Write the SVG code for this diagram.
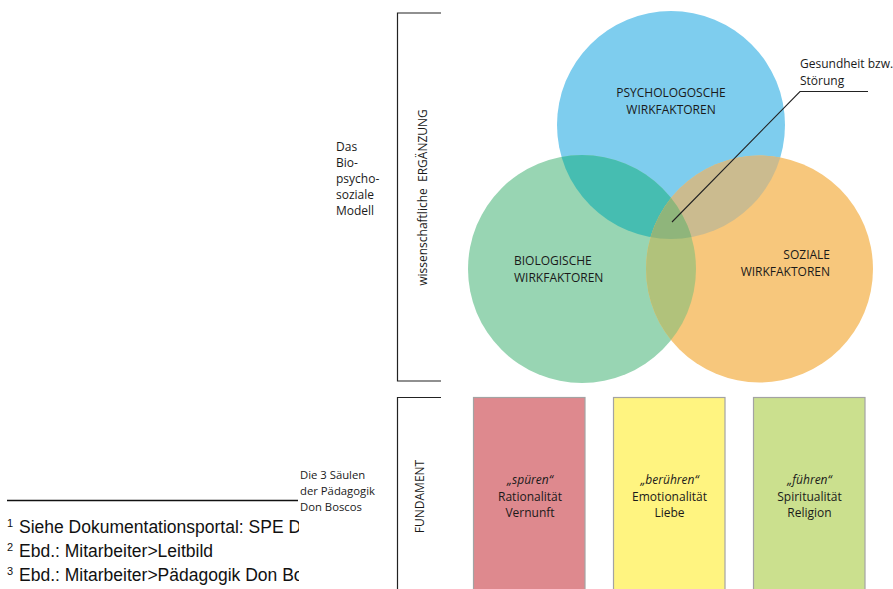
<svg xmlns="http://www.w3.org/2000/svg" width="893" height="589" viewBox="0 0 893 589">
<style>
text{font-family:"Open Sans","Noto Sans",sans-serif;font-size:12px;fill:#1a1a1a}
.fn{font-family:"Liberation Sans",Arial,sans-serif;font-size:17.5px;fill:#111}
.sup{font-family:"Liberation Sans",Arial,sans-serif;font-size:11px;fill:#111}
.sm{font-size:11.3px}
.br{fill:none;stroke:#222;stroke-width:1.2}
.col{stroke:#a3a3a3;stroke-width:1.2}
.c{text-anchor:middle}
.it{font-style:italic}
</style>
<defs>
<clipPath id="cB"><circle cx="671" cy="125" r="114"/></clipPath>
<clipPath id="cG"><circle cx="582" cy="269" r="114"/></clipPath>
<clipPath id="cFn"><rect x="0" y="505" width="299" height="84"/></clipPath>
</defs>
<rect width="893" height="589" fill="#fff"/>

<g id="venn">
<circle id="blue" cx="671" cy="125" r="114" fill="#7ecdee"/>
<circle id="green" cx="582" cy="269" r="114" fill="#98d5b3"/>
<circle id="orange" cx="759.5" cy="269" r="113.5" fill="#f7c77c"/>
<circle cx="582" cy="269" r="114" fill="#46bdb1" clip-path="url(#cB)"/>
<circle cx="759.5" cy="269" r="113.5" fill="#cbbb8f" clip-path="url(#cB)"/>
<circle cx="759.5" cy="269" r="113.5" fill="#b1c27b" clip-path="url(#cG)"/>
<g clip-path="url(#cB)"><circle cx="759.5" cy="269" r="113.5" fill="#8fb57b" clip-path="url(#cG)"/></g>
</g>

<g id="node-psych"><text class="c" x="671" y="97">PSYCHOLOGOSCHE</text><text class="c" x="671" y="114">WIRKFAKTOREN</text></g>
<g id="node-bio"><text x="514" y="265">BIOLOGISCHE</text><text x="514" y="282">WIRKFAKTOREN</text></g>
<g id="node-sozial"><text x="830" y="259" text-anchor="end">SOZIALE</text><text x="830" y="276" text-anchor="end">WIRKFAKTOREN</text></g>
<g id="node-gesund"><text x="800" y="68" font-size="11.5">Gesundheit bzw.</text><text x="800" y="85" font-size="11.5">Störung</text></g>

<g id="connectors">
<polyline points="868,91.5 800,91.5 672,222" fill="none" stroke="#222" stroke-width="1.1"/>
<polyline class="br" points="441,13 397.5,13 397.5,381 441,381"/>
<polyline class="br" points="441,397.5 397.5,397.5 397.5,590"/>
<line x1="7" y1="500.5" x2="298" y2="500.5" stroke="#111" stroke-width="1.6"/>
</g>

<g id="label-ergaenzung"><text class="c" style="white-space:pre" transform="translate(426.5,197.5) rotate(-90)">wissenschaftliche  ERGÄNZUNG</text></g>
<g id="label-fundament"><text class="c" transform="translate(424,496.5) rotate(-90)">FUNDAMENT</text></g>

<g id="label-modell">
<text x="336" y="150.5">Das</text>
<text x="336" y="166.7">Bio-</text>
<text x="336" y="183">psycho-</text>
<text x="336" y="199.2">soziale</text>
<text x="336" y="215.3">Modell</text>
</g>

<g id="label-saeulen">
<text class="sm" x="300" y="479">Die 3 Säulen</text>
<text class="sm" x="300" y="495">der Pädagogik</text>
<text class="sm" x="300" y="511">Don Boscos</text>
</g>

<g id="col-spueren">
<rect class="col" x="473.5" y="397.5" width="111.5" height="200" fill="#de898e"/>
<text class="c it" x="530" y="484">„spüren“</text>
<text class="c" x="530" y="501">Rationalität</text>
<text class="c" x="530" y="517">Vernunft</text>
</g>
<g id="col-beruehren">
<rect class="col" x="613.5" y="397.5" width="111.5" height="200" fill="#fff480"/>
<text class="c it" x="669.5" y="484">„berühren“</text>
<text class="c" x="669.5" y="501">Emotionalität</text>
<text class="c" x="669.5" y="517">Liebe</text>
</g>
<g id="col-fuehren">
<rect class="col" x="753.5" y="397.5" width="111.5" height="200" fill="#cbe08e"/>
<text class="c it" x="809.5" y="484">„führen“</text>
<text class="c" x="809.5" y="501">Spiritualität</text>
<text class="c" x="809.5" y="517">Religion</text>
</g>

<g id="footnotes" clip-path="url(#cFn)">
<text class="sup" x="7" y="527">1</text><text class="fn" x="19" y="533">Siehe Dokumentationsportal: SPE Don Bosco</text>
<text class="sup" x="7" y="551">2</text><text class="fn" x="19" y="557">Ebd.: Mitarbeiter&gt;Leitbild</text>
<text class="sup" x="7" y="575">3</text><text class="fn" x="19" y="581">Ebd.: Mitarbeiter&gt;Pädagogik Don Bosco</text>
</g>
</svg>
